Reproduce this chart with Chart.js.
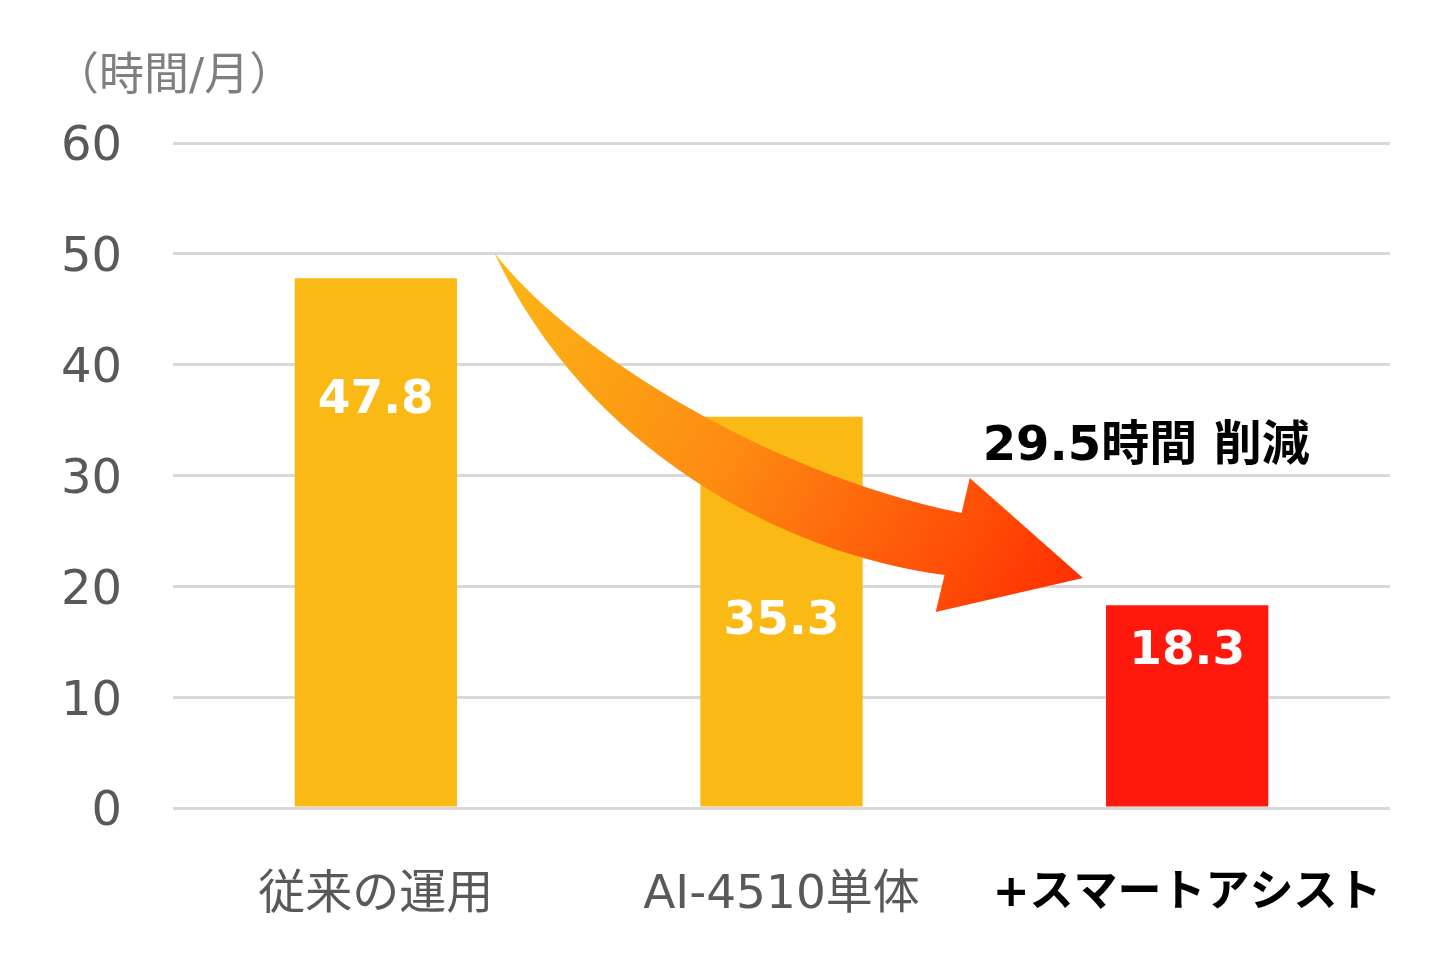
<!DOCTYPE html>
<html lang="ja">
<head>
<meta charset="utf-8">
<script src="https://cdn.jsdelivr.net/npm/chart.js@4/dist/chart.umd.min.js"></script>
<style>
    html, body { margin: 0; padding: 0; background: #fff; }
    .chart-box { position: relative; width: 1441px; height: 980px; }
</style>
</head>
<body>
<div class="chart-box"><canvas id="chart"></canvas></div>
<script>

// chart data
const categories = [ '従来の運用', 'AI-4510単体', '+スマートアシスト' ];
const hours = [ 47.8, 35.3, 18.3 ];
const barColors = [ '#fbb916', '#fbb916', '#ff190c' ];
const yTicks = [ 0, 10, 20, 30, 40, 50, 60 ];
const unitLabel = '（時間/月）';
const cutSuffix = '時間 削減';

const FONT = "'DejaVu Sans', 'Noto Sans CJK JP', sans-serif";

/**
 * draw unit label, value labels, curved arrow and reduction note
 */
const decorations = {
    id: 'decorations',
    afterDatasetsDraw( chart ) {

        let ctx = chart.ctx,
            x = chart.scales.x,
            y = chart.scales.y,
            p = ( i, v ) => [ x.getPixelForValue( i ), y.getPixelForValue( v ) ];

        ctx.save();

        // value labels inside the bars (label height in axis units)
        let labelAt = [ 36.7, 16.8, 14.1 ];
        ctx.fillStyle = '#fff';
        ctx.font = 'bold 47px ' + FONT;
        ctx.textAlign = 'center';
        ctx.textBaseline = 'middle';
        hours.forEach( ( h, i ) => {
            let [ px, py ] = p( i, labelAt[ i ] );
            ctx.fillText( h.toFixed( 1 ), px, py );
        } );

        // curved arrow, in (category index, value) space
        let S  = p( 0.291, 50.17 ),
            P1 = p( 0.454, 42.2 ),
            P2 = p( 0.93, 30.5 ),
            US = p( 1.444, 26.62 ),
            UB = p( 1.464, 29.78 ),
            T  = p( 1.743, 20.75 ),
            LB = p( 1.380, 17.68 ),
            LS = p( 1.402, 21.02 ),
            Q1 = p( 1.0, 23.0 ),
            Q2 = p( 0.52, 32.3 );

        let grad = ctx.createLinearGradient( S[0], S[1], T[0], T[1] + 40 );
        grad.addColorStop( 0, '#fbb916' );
        grad.addColorStop( 0.45, '#fd8a12' );
        grad.addColorStop( 1, '#ff2a00' );

        ctx.beginPath();
        ctx.moveTo( S[0], S[1] );
        ctx.bezierCurveTo( P1[0], P1[1], P2[0], P2[1], US[0], US[1] );
        ctx.lineTo( UB[0], UB[1] );
        ctx.lineTo( T[0], T[1] );
        ctx.lineTo( LB[0], LB[1] );
        ctx.lineTo( LS[0], LS[1] );
        ctx.bezierCurveTo( Q1[0], Q1[1], Q2[0], Q2[1], S[0], S[1] );
        ctx.closePath();
        ctx.fillStyle = grad;
        ctx.fill();

        // reduction note
        let [ nx, ny ] = p( 1.496, 32.5 );
        ctx.fillStyle = '#000';
        ctx.font = 'bold 48px ' + FONT;
        ctx.textAlign = 'left';
        ctx.fillText( ( hours[0] - hours[2] ).toFixed( 1 ) + cutSuffix, nx, ny );

        // unit label above the axis
        ctx.fillStyle = '#7f7f7f';
        ctx.font = '45px ' + FONT;
        ctx.textAlign = 'left';
        ctx.fillText( unitLabel, 54, 78 );

        ctx.restore();

    }
};

new Chart( document.getElementById( 'chart' ).getContext( '2d' ), {
    type: 'bar',
    data: {
        labels: categories,
        datasets: [ {
            data: hours,
            backgroundColor: barColors,
            borderWidth: 0,
            categoryPercentage: 1,
            barPercentage: 0.4
        } ]
    },
    options: {
        responsive: true,
        maintainAspectRatio: false,
        animation: false,
        layout: {
            padding: { top: 143, right: 51, bottom: 0, left: 0 }
        },
        plugins: {
            legend: { display: false },
            tooltip: { enabled: false }
        },
        scales: {
            x: {
                border: { display: false },
                grid: { display: false },
                afterFit: ( s ) => {
                    s.height = 172;
                    s.paddingLeft = 0;
                    s.paddingRight = 0;
                },
                ticks: {
                    padding: 52,
                    maxRotation: 0,
                    minRotation: 0,
                    autoSkip: false,
                    color: ( c ) => c.index === 2 ? '#000' : '#595959',
                    font: ( c ) => c.index === 2
                        ? { family: FONT, size: 44, weight: 'bold' }
                        : { family: FONT, size: 47 }
                }
            },
            y: {
                min: 0,
                max: 60,
                border: { display: false },
                afterFit: ( s ) => { s.width = 173; },
                afterBuildTicks: ( s ) => { s.ticks = yTicks.map( v => ( { value: v } ) ); },
                grid: {
                    color: '#d9d9d9',
                    lineWidth: 3,
                    drawTicks: false
                },
                ticks: {
                    padding: 51,
                    labelOffset: 5,
                    color: '#595959',
                    font: { family: FONT, size: 48 }
                }
            }
        }
    },
    plugins: [ decorations ]
} );

</script>
</body>
</html>
